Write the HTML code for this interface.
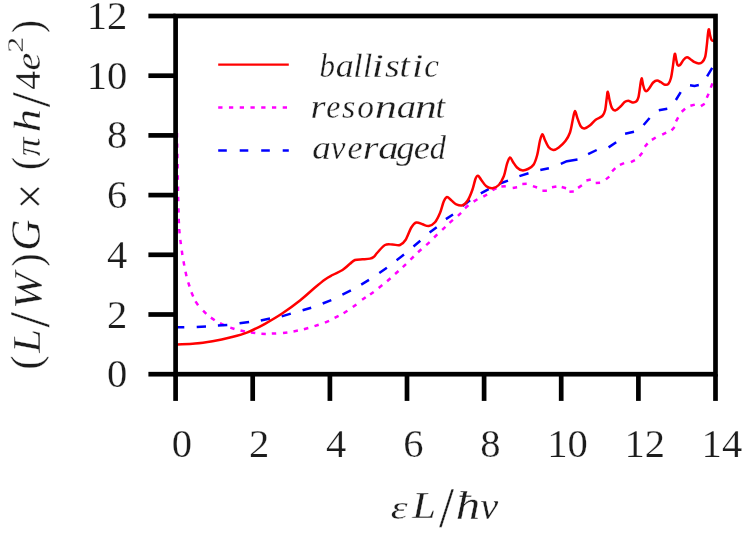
<!DOCTYPE html>
<html><head><meta charset="utf-8"><title>chart</title>
<style>
html,body{margin:0;padding:0;background:#fff;}
body{width:747px;height:533px;overflow:hidden;font-family:"Liberation Serif",serif;}
svg{display:block;}
text{font-family:"Liberation Serif",serif;fill:#1c1c1c;font-kerning:none;stroke:#fff;stroke-linejoin:round;}
.i{font-style:italic;}
.d text{stroke-width:0.25px;}
</style></head><body>
<svg width="747" height="533" viewBox="0 0 747 533">
<rect width="747" height="533" fill="#fff"/>

<defs><clipPath id="c"><rect x="175.6" y="16.0" width="539.9" height="358.2"/></clipPath></defs>
<g fill="none" stroke-linejoin="round" stroke-linecap="butt" clip-path="url(#c)">
<path d="M177.0,133.1L177.0,137.5M177.2,143.4L177.2,147.8M177.4,153.8L177.4,158.2M177.6,164.1L177.6,168.5M177.8,175.3L177.8,179.7M178.0,186.6L178.0,191.0M178.1,196.9L178.3,201.3M178.4,208.2L178.6,212.6M178.7,218.8L178.9,223.2M179.2,229.0L179.6,233.4M180.3,239.8L180.9,244.2M181.8,250.6L182.4,255.0M183.5,261.2L184.3,265.6M185.5,271.8L186.5,276.2M188.2,282.3L189.6,286.5M191.4,292.2L193.2,296.4M195.5,301.4L198.1,305.2M203.1,310.7L206.3,313.9M210.9,317.6L214.7,320.2M220.0,323.2L224.0,325.2M230.3,327.6L234.5,329.0M240.5,330.5L244.9,331.5M250.9,332.4L255.3,333.0M261.4,333.7L265.8,333.9M271.8,333.6L276.2,333.4M283.0,333.0L287.4,332.4M293.5,331.4L297.9,330.6M303.9,329.2L308.3,328.0M314.5,326.1L318.7,324.7M324.9,322.6L329.1,320.8M334.6,317.9L338.6,315.9M343.6,313.2L347.4,310.8M352.8,307.0L356.4,304.4M362.1,299.8L365.7,297.2M370.1,294.5L373.7,291.9M378.7,287.9L382.3,285.1M387.1,281.2L390.5,278.2M395.1,274.0L398.5,271.0M402.8,267.1L406.0,264.1M410.5,259.7L413.7,256.5M418.0,252.2L421.4,249.2M426.2,245.1L429.6,242.1M434.1,237.5L437.3,234.3M442.2,229.8L445.4,226.8M449.5,222.9L452.9,219.9M457.9,215.9L461.1,212.9M465.0,208.3L468.4,205.3M473.6,201.6L477.4,199.2M483.3,196.7L487.1,194.5M492.5,190.2L496.5,188.2M501.4,186.6L505.8,186.2M512.7,187.9L517.1,187.3M522.3,184.0L526.7,183.8M532.9,186.1L537.1,187.5M542.4,190.8L546.9,190.8M552.0,187.2L556.4,186.4M561.7,187.0L566.1,188.2M569.4,191.8L573.8,191.6M578.1,187.9L581.9,185.3M586.4,180.5L590.8,179.5M595.7,183.1L600.1,182.7M605.9,179.4L609.3,176.6M612.1,171.3L615.3,168.1M619.9,164.9L624.1,163.1M630.9,162.2L634.9,160.2M639.5,156.1L642.3,152.7M644.8,146.8L647.6,143.4M651.9,139.9L655.7,137.5M662.2,134.6L666.2,132.6M671.6,130.4L674.6,127.0M676.0,121.4L678.2,117.4M681.7,111.7L685.1,108.7M690.4,105.8L694.8,104.6M700.9,106.1L704.7,103.7M706.8,97.7L708.6,93.7M710.8,87.6L712.4,83.4" stroke="#ff00ff" stroke-width="2.5"/>
<path d="M175.3,327.3L184.3,327.2M196.7,326.9L206.0,326.4M217.9,325.4L227.3,324.9M239.5,323.3L249.1,321.9M260.8,320.4L270.0,318.6M281.7,316.4L290.8,313.6M302.6,310.3L311.2,307.7M322.7,303.5L331.3,300.1M342.4,294.6L350.9,290.4M361.2,284.6L369.0,279.9M379.3,273.0L386.9,267.8M396.6,260.2L404.0,254.6M413.5,246.5L420.3,240.8M429.6,232.5L436.7,227.3M445.9,219.1L453.0,214.5M462.5,205.9L470.1,200.2M480.8,193.3L488.7,189.1M499.3,183.7L508.0,180.6M519.4,176.1L528.5,173.3M540.3,170.0L548.9,168.2M560.8,163.9L567.0,161.2L577.5,159.6M588.1,154.2L596.7,150.0M608.6,147.4L616.2,142.2M625.1,133.7L634.0,131.8M643.6,125.0L649.6,118.0M658.8,110.3L667.3,108.7M675.9,100.0L680.7,92.2M690.0,85.2L694.5,85.9L698.8,85.1M707.1,76.3L712.2,67.8" stroke="#0000ff" stroke-width="2.5"/>
<path d="M175.6,344.6C175.9,344.6 174.3,344.7 177.5,344.5C180.7,344.3 189.2,344.2 195.0,343.6C200.8,343.1 206.7,342.2 212.5,341.2C218.3,340.2 224.2,339.0 230.0,337.5C235.8,336.0 241.7,334.6 247.5,332.3C253.3,330.0 259.2,327.0 265.0,323.8C270.8,320.6 276.7,317.2 282.5,313.3C288.3,309.4 294.6,304.8 300.0,300.5C305.4,296.2 310.8,291.0 315.0,287.5C319.2,284.0 322.1,281.6 325.0,279.5C327.9,277.4 329.6,276.6 332.5,275.0C335.4,273.4 339.6,271.9 342.5,270.0C345.4,268.1 347.9,265.5 350.0,263.8C352.1,262.1 352.9,260.8 355.0,260.0C357.1,259.2 360.0,259.5 362.5,259.3C365.0,259.1 368.1,259.0 370.0,258.6C371.9,258.2 372.4,258.0 373.6,257.0C374.9,256.0 375.6,254.5 377.5,252.5C379.4,250.5 382.5,246.3 385.0,245.0C387.5,243.7 390.0,244.5 392.5,244.5C395.0,244.5 397.8,245.8 400.0,245.0C402.2,244.2 403.6,242.9 405.5,240.0C407.4,237.1 409.5,230.4 411.3,227.5C413.1,224.6 414.4,223.0 416.3,222.5C418.2,222.0 420.4,223.7 422.5,224.3C424.6,224.9 426.7,226.3 428.8,226.0C430.9,225.7 433.1,224.5 435.0,222.3C436.9,220.1 438.5,216.5 440.0,213.0C441.5,209.5 442.6,204.0 443.8,201.3C445.0,198.6 445.8,197.2 447.0,197.0C448.2,196.8 449.8,199.1 451.3,200.3C452.9,201.5 454.4,203.5 456.3,204.3C458.2,205.1 460.6,205.8 462.5,205.2C464.4,204.6 465.8,203.4 467.5,200.8C469.2,198.2 471.2,193.2 472.5,189.5C473.8,185.8 474.6,181.1 475.5,178.8C476.4,176.5 477.0,175.6 478.0,175.8C479.0,176.0 479.9,178.2 481.3,180.0C482.7,181.8 484.4,184.9 486.3,186.3C488.2,187.7 490.4,188.5 492.5,188.3C494.6,188.1 496.9,187.0 498.8,185.0C500.7,183.0 502.4,179.8 503.8,176.3C505.2,172.8 506.0,166.9 507.0,163.8C508.0,160.7 509.0,157.8 510.0,157.5C511.0,157.2 511.8,160.3 513.0,162.0C514.2,163.7 515.5,166.1 517.0,167.5C518.5,168.9 520.2,170.1 522.0,170.3C523.8,170.6 526.1,169.9 528.0,169.0C529.9,168.1 532.0,167.1 533.5,164.8C535.0,162.5 536.1,159.1 537.2,155.0C538.3,150.9 539.1,144.0 540.0,140.5C540.9,137.0 541.6,134.4 542.4,134.2C543.2,134.0 543.7,137.4 544.7,139.5C545.7,141.6 547.1,145.3 548.5,147.0C549.9,148.7 551.5,149.8 553.2,149.9C554.9,150.0 556.8,148.9 558.8,147.4C560.8,145.9 563.5,143.5 565.4,141.0C567.3,138.5 568.7,136.2 570.0,132.5C571.3,128.8 572.2,122.1 573.0,118.5C573.8,114.9 574.3,111.0 575.0,110.9C575.7,110.8 576.3,115.2 577.3,117.8C578.2,120.4 579.5,124.5 580.7,126.3C581.9,128.1 582.8,128.7 584.4,128.5C586.0,128.3 588.2,126.8 590.1,125.3C592.0,123.8 593.7,121.2 595.7,119.7C597.7,118.2 600.7,117.6 602.3,116.0C603.9,114.4 604.4,113.2 605.1,110.3C605.8,107.4 606.2,101.6 606.7,98.5C607.2,95.4 607.3,91.5 607.8,91.7C608.3,91.9 608.8,97.0 609.5,99.7C610.2,102.5 611.0,106.4 612.0,108.2C613.0,110.0 613.9,110.7 615.3,110.5C616.7,110.3 618.7,108.2 620.2,106.8C621.8,105.4 623.3,103.1 624.6,102.1C625.9,101.1 626.9,100.8 628.2,100.8C629.5,100.8 631.3,102.3 632.6,102.4C633.9,102.5 635.2,102.4 636.2,101.6C637.2,100.8 637.7,100.0 638.4,97.4C639.1,94.8 639.7,89.1 640.2,85.9C640.7,82.7 641.1,78.5 641.6,78.3C642.1,78.1 642.6,83.0 643.1,85.0C643.6,87.0 644.1,89.1 644.8,90.1C645.4,91.1 646.2,91.3 647.0,90.9C647.8,90.5 648.8,89.0 649.8,87.6C650.8,86.2 652.0,83.7 653.2,82.5C654.4,81.3 655.8,80.5 657.1,80.5C658.4,80.5 659.5,81.5 660.8,82.2C662.1,82.9 663.7,84.4 665.0,84.7C666.3,85.0 667.4,85.0 668.4,83.9C669.4,82.8 670.1,81.3 670.9,78.3C671.7,75.2 672.4,69.7 673.0,65.6C673.6,61.5 674.2,54.6 674.8,53.8C675.4,52.9 675.9,58.6 676.4,60.5C676.9,62.4 677.1,64.6 677.7,65.3C678.3,66.0 679.2,65.7 680.2,64.8C681.2,63.9 682.5,61.0 683.6,59.7C684.7,58.4 685.9,57.3 687.0,57.2C688.1,57.1 689.1,58.4 690.4,59.2C691.7,60.0 693.2,61.5 694.6,62.2C696.0,62.9 697.5,63.4 698.8,63.4C700.1,63.4 701.2,63.2 702.2,62.2C703.2,61.2 704.3,60.0 705.1,57.2C705.9,54.4 706.3,49.4 706.8,45.3C707.3,41.2 707.7,35.4 708.1,32.7C708.5,30.0 708.7,28.9 709.0,29.3C709.3,29.7 709.7,33.4 710.1,35.2C710.5,37.0 710.9,38.9 711.5,39.9C712.1,40.9 712.8,41.0 713.5,41.0C714.2,41.0 715.2,40.2 715.5,40.0" stroke="#ff0000" stroke-width="2.5"/>
</g>
<g stroke="#000" stroke-width="4.7" fill="none" stroke-linecap="butt">
<rect x="175.6" y="16.0" width="539.9" height="358.2"/>
<line x1="175.6" y1="374.2" x2="175.6" y2="400.9"/>
<line x1="252.7" y1="374.2" x2="252.7" y2="400.9"/>
<line x1="329.9" y1="374.2" x2="329.9" y2="400.9"/>
<line x1="407.0" y1="374.2" x2="407.0" y2="400.9"/>
<line x1="484.1" y1="374.2" x2="484.1" y2="400.9"/>
<line x1="561.2" y1="374.2" x2="561.2" y2="400.9"/>
<line x1="638.4" y1="374.2" x2="638.4" y2="400.9"/>
<line x1="715.5" y1="374.2" x2="715.5" y2="400.9"/>
<line x1="148.4" y1="374.2" x2="175.6" y2="374.2"/>
<line x1="148.4" y1="314.5" x2="175.6" y2="314.5"/>
<line x1="148.4" y1="254.8" x2="175.6" y2="254.8"/>
<line x1="148.4" y1="195.1" x2="175.6" y2="195.1"/>
<line x1="148.4" y1="135.4" x2="175.6" y2="135.4"/>
<line x1="148.4" y1="75.7" x2="175.6" y2="75.7"/>
<line x1="148.4" y1="16.0" x2="175.6" y2="16.0"/>
</g>
<g opacity="0.999">
<g class="d" font-size="40.6">
<text x="127.3" y="387.2" text-anchor="end">0</text>
<text x="127.3" y="327.5" text-anchor="end">2</text>
<text x="127.3" y="267.8" text-anchor="end">4</text>
<text x="127.3" y="208.1" text-anchor="end">6</text>
<text x="127.3" y="148.4" text-anchor="end">8</text>
<text x="127.3" y="88.7" text-anchor="end">10</text>
<text x="127.3" y="29.0" text-anchor="end">12</text>
<text x="181.9" y="456.7" text-anchor="middle">0</text>
<text x="259.1" y="456.7" text-anchor="middle">2</text>
<text x="336.2" y="456.7" text-anchor="middle">4</text>
<text x="413.3" y="456.7" text-anchor="middle">6</text>
<text x="490.5" y="456.7" text-anchor="middle">8</text>
<text x="567.6" y="456.7" text-anchor="middle">10</text>
<text x="644.7" y="456.7" text-anchor="middle">12</text>
<text x="721.9" y="456.7" text-anchor="middle">14</text>
</g>
<g fill="none" stroke-width="2.3">
<line x1="218.2" y1="64.7" x2="288.8" y2="64.7" stroke="#ff0000"/>
<line x1="218.2" y1="107.5" x2="288.8" y2="107.5" stroke="#ff00ff" stroke-dasharray="4.3 6.45"/>
<line x1="218.2" y1="150.5" x2="288.8" y2="150.5" stroke="#0000ff" stroke-dasharray="8.6 12.9"/>
</g>
<text class="i" font-size="100" stroke-width="0.92" transform="matrix(0.3087 0 0 0.3430 319.58 76.60)">b</text>
<text class="i" font-size="100" stroke-width="0.85" transform="matrix(0.3606 0 0 0.3430 335.68 76.60)">a</text>
<text class="i" font-size="100" stroke-width="0.88" transform="matrix(0.3356 0 0 0.3430 353.16 76.60)">l</text>
<text class="i" font-size="100" stroke-width="0.89" transform="matrix(0.3306 0 0 0.3430 363.09 76.60)">l</text>
<text class="i" font-size="100" stroke-width="0.78" transform="matrix(0.4273 0 0 0.3430 371.77 76.60)">i</text>
<text class="i" font-size="100" stroke-width="0.83" transform="matrix(0.3808 0 0 0.3430 384.89 76.60)">s</text>
<text class="i" font-size="100" stroke-width="0.84" transform="matrix(0.3742 0 0 0.3430 399.61 76.60)">t</text>
<text class="i" font-size="100" stroke-width="0.81" transform="matrix(0.4013 0 0 0.3430 412.12 76.60)">i</text>
<text class="i" font-size="100" stroke-width="0.89" transform="matrix(0.3306 0 0 0.3430 424.13 76.60)">c</text>
<text class="i" font-size="100" stroke-width="0.82" transform="matrix(0.3868 0 0 0.3430 310.48 118.00)">r</text>
<text class="i" font-size="100" stroke-width="0.91" transform="matrix(0.3174 0 0 0.3430 326.37 118.00)">e</text>
<text class="i" font-size="100" stroke-width="0.87" transform="matrix(0.3433 0 0 0.3430 341.93 118.00)">s</text>
<text class="i" font-size="100" stroke-width="0.89" transform="matrix(0.3338 0 0 0.3430 357.26 118.00)">o</text>
<text class="i" font-size="100" stroke-width="0.77" transform="matrix(0.4459 0 0 0.3430 374.63 118.00)">n</text>
<text class="i" font-size="100" stroke-width="0.82" transform="matrix(0.3883 0 0 0.3430 396.69 118.00)">a</text>
<text class="i" font-size="100" stroke-width="0.77" transform="matrix(0.4375 0 0 0.3430 414.99 118.00)">n</text>
<text class="i" font-size="100" stroke-width="0.87" transform="matrix(0.3466 0 0 0.3430 435.43 118.00)">t</text>
<text class="i" font-size="100" stroke-width="0.84" transform="matrix(0.3722 0 0 0.3430 312.24 159.40)">a</text>
<text class="i" font-size="100" stroke-width="0.89" transform="matrix(0.3301 0 0 0.3430 330.70 159.40)">v</text>
<text class="i" font-size="100" stroke-width="0.88" transform="matrix(0.3405 0 0 0.3430 347.40 159.40)">e</text>
<text class="i" font-size="100" stroke-width="0.81" transform="matrix(0.4039 0 0 0.3430 362.71 159.40)">r</text>
<text class="i" font-size="100" stroke-width="0.80" transform="matrix(0.4091 0 0 0.3430 378.23 159.40)">a</text>
<text class="i" font-size="100" stroke-width="0.85" transform="matrix(0.3658 0 0 0.3430 396.23 159.40)">g</text>
<text class="i" font-size="100" stroke-width="0.85" transform="matrix(0.3635 0 0 0.3430 413.83 159.40)">e</text>
<text class="i" font-size="100" stroke-width="0.90" transform="matrix(0.3240 0 0 0.3430 429.67 159.40)">d</text>
<text class="i" font-size="100" stroke-width="0.79" transform="matrix(0.4252 0 0 0.3389 390.64 518.72)">ε</text>
<text class="i" font-size="100" stroke-width="0.74" transform="matrix(0.4265 0 0 0.3879 412.15 518.25)">L</text>
<text font-size="100" stroke-width="0.54" transform="matrix(0.5399 0 0 0.5666 438.95 527.00)">/</text>
<text class="i" font-size="100" stroke-width="0.68" transform="matrix(0.4877 0 0 0.3935 455.69 518.55)">ħ</text>
<text class="i" font-size="100" stroke-width="0.77" transform="matrix(0.4045 0 0 0.3712 480.20 518.69)">v</text>
<g transform="rotate(-90)">
<text font-size="100" stroke-width="0.70" transform="matrix(0.4283 0 0 0.4235 -369.83 40.33)">(</text>
<text class="i" font-size="100" stroke-width="0.73" transform="matrix(0.4265 0 0 0.3910 -352.85 40.35)">L</text>
<text font-size="100" stroke-width="0.53" transform="matrix(0.5579 0 0 0.5666 -327.45 48.80)">/</text>
<text class="i" font-size="100" stroke-width="0.71" transform="matrix(0.4378 0 0 0.4090 -308.94 40.93)">W</text>
<text font-size="100" stroke-width="0.73" transform="matrix(0.3932 0 0 0.4312 -266.52 40.97)">)</text>
<text class="i" font-size="100" stroke-width="0.69" transform="matrix(0.4322 0 0 0.4323 -250.73 40.37)">G</text>
<text font-size="100" stroke-width="0.64" transform="matrix(0.4548 0 0 0.4764 -209.35 46.29)">×</text>
<text font-size="100" stroke-width="0.73" transform="matrix(0.3894 0 0 0.4312 -170.06 40.97)">(</text>
<text class="i" font-size="100" stroke-width="0.81" transform="matrix(0.3741 0 0 0.3648 -156.35 40.09)">π</text>
<text class="i" font-size="100" stroke-width="0.71" transform="matrix(0.4652 0 0 0.3877 -132.16 40.15)">h</text>
<text font-size="100" stroke-width="0.55" transform="matrix(0.5399 0 0 0.5561 -107.15 49.01)">/</text>
<text font-size="100" stroke-width="0.81" transform="matrix(0.3765 0 0 0.3646 -89.69 40.15)">4</text>
<text class="i" font-size="100" stroke-width="0.80" transform="matrix(0.3994 0 0 0.3555 -70.48 40.10)">e</text>
<text font-size="100" stroke-width="1.09" transform="matrix(0.3193 0 0 0.2371 -52.85 23.35)">2</text>
<text font-size="100" stroke-width="0.74" transform="matrix(0.3894 0 0 0.4268 -33.00 41.06)">)</text>
</g>
</g>
</svg></body></html>
